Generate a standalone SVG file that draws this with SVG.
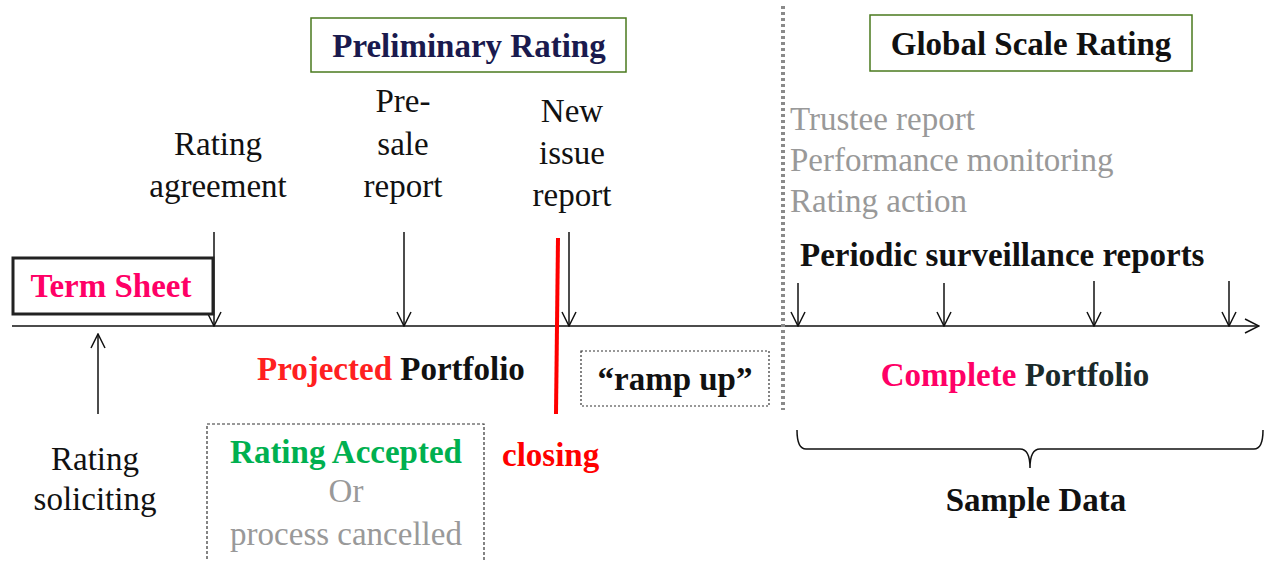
<svg xmlns="http://www.w3.org/2000/svg" width="1264" height="561" viewBox="0 0 1264 561">
<style>
text{font-family:"Liberation Serif","Times New Roman",serif;font-size:33px;fill:#111}
.b{font-weight:bold}
.g{fill:#999}
.m{text-anchor:middle}
.ln{stroke:#111;stroke-width:1.5;fill:none}
</style>
<defs>
<marker id="ah" viewBox="0 0 16 16" refX="15" refY="8" markerWidth="16" markerHeight="16" markerUnits="userSpaceOnUse" orient="auto">
<path d="M1,1 L15,8 L1,15" fill="none" stroke="#111" stroke-width="1.5"/>
</marker>
</defs>
<rect width="1264" height="561" fill="#fff"/>
<g id="connectors">
<line class="ln" x1="12" y1="326" x2="1259" y2="326" marker-end="url(#ah)"/>
<line class="ln" x1="214" y1="232" x2="214" y2="326" marker-end="url(#ah)"/>
<line class="ln" x1="404" y1="232" x2="404" y2="326" marker-end="url(#ah)"/>
<line class="ln" x1="569" y1="232" x2="569" y2="326" marker-end="url(#ah)"/>
<line class="ln" x1="98" y1="414" x2="98" y2="334" marker-end="url(#ah)"/>
<line class="ln" x1="798" y1="283" x2="798" y2="326" marker-end="url(#ah)"/>
<line class="ln" x1="944" y1="283" x2="944" y2="326" marker-end="url(#ah)"/>
<line class="ln" x1="1094" y1="281" x2="1094" y2="326" marker-end="url(#ah)"/>
<line class="ln" x1="1229" y1="281" x2="1229" y2="326" marker-end="url(#ah)"/>
<line x1="558" y1="238" x2="556" y2="414" stroke="#ff0000" stroke-width="4"/>
<line x1="783" y1="6" x2="783" y2="410" stroke="#8a8a8a" stroke-width="4" stroke-dasharray="3,3"/>
<path class="ln" d="M797,430 Q797,449 806,449 L1020,449 Q1030,449 1030,468 Q1030,449 1040,449 L1254,449 Q1263,449 1263,430"/>
</g>
<g id="term-sheet">
<rect x="13" y="258" width="200" height="56" fill="#fff" stroke="#222" stroke-width="3"/>
<text class="b m" x="111" y="297" style="fill:#ff0066">Term Sheet</text>
</g>
<g id="preliminary-rating">
<rect x="311" y="18" width="315" height="54" fill="#fff" stroke="#4a7a1e" stroke-width="1.5"/>
<text class="b m" x="469" y="57" style="fill:#1a1a4e">Preliminary Rating</text>
</g>
<g id="global-scale-rating">
<rect x="870" y="15" width="322" height="56" fill="#fff" stroke="#4a7a1e" stroke-width="1.5"/>
<text class="b m" x="1031" y="55">Global Scale Rating</text>
</g>
<g id="rating-agreement">
<text class="m" x="218" y="155">Rating</text>
<text class="m" x="218" y="197">agreement</text>
</g>
<g id="pre-sale-report">
<text class="m" x="403" y="112">Pre-</text>
<text class="m" x="403" y="155">sale</text>
<text class="m" x="403" y="197">report</text>
</g>
<g id="new-issue-report">
<text class="m" x="572" y="122">New</text>
<text class="m" x="572" y="164">issue</text>
<text class="m" x="572" y="206">report</text>
</g>
<g id="monitoring">
<text class="g" x="790" y="130">Trustee report</text>
<text class="g" x="790" y="171">Performance monitoring</text>
<text class="g" x="790" y="212">Rating action</text>
</g>
<g id="periodic-surveillance">
<text class="b" x="800" y="266">Periodic surveillance reports</text>
</g>
<g id="rating-soliciting">
<text class="m" x="95" y="470">Rating</text>
<text class="m" x="95" y="510">soliciting</text>
</g>
<g id="projected-portfolio">
<text class="b" x="257" y="380"><tspan style="fill:#ff2020">Projected</tspan> Portfolio</text>
</g>
<g id="ramp-up">
<rect x="581" y="351" width="188" height="55" fill="#fff" stroke="#333" stroke-width="1.2" stroke-dasharray="2,2"/>
<text class="b m" x="675" y="390">“ramp up”</text>
</g>
<g id="complete-portfolio">
<text class="b m" x="1015" y="386"><tspan style="fill:#ff0066">Complete</tspan> <tspan style="fill:#1a2a2a">Portfolio</tspan></text>
</g>
<g id="rating-accepted">
<rect x="207" y="424" width="277" height="138" fill="#fff" stroke="#333" stroke-width="1.2" stroke-dasharray="3,2"/>
<text class="b m" x="346" y="463" style="fill:#00b050">Rating Accepted</text>
<text class="g m" x="346" y="502">Or</text>
<text class="g m" x="346" y="545">process cancelled</text>
</g>
<g id="closing">
<text class="b" x="502" y="466" style="fill:#ff0000">closing</text>
</g>
<g id="sample-data">
<text class="b m" x="1036" y="511">Sample Data</text>
</g>
</svg>
